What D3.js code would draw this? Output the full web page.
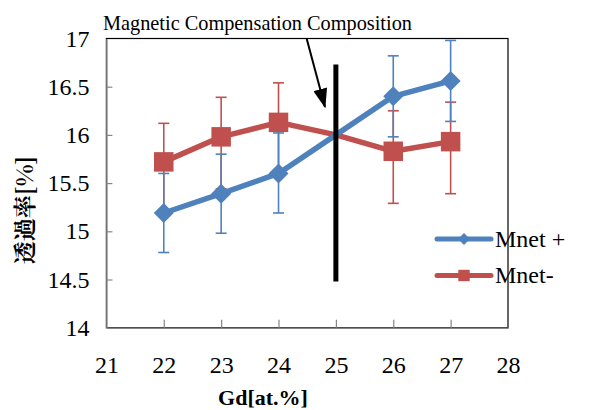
<!DOCTYPE html>
<html>
<head>
<meta charset="utf-8">
<script src="https://cdn.jsdelivr.net/npm/d3@7"></script>
<style>
  body { margin: 0; background: #fff; }
</style>
</head>
<body>
<svg id="chart" width="616" height="410"></svg>
<script>
// Gd content [at.%]
var gd = [22, 23, 24, 25, 26, 27];

// transmittance, Mnet + (blue diamonds)
var mnetPlus = [15.19, 15.39, 15.60, 16.00, 16.40, 16.56];
var mnetPlusUp = [0.41, 0.41, 0.42, 0, 0.42, 0.42];
var mnetPlusDown = [0.41, 0.41, 0.41, 0, 0.42, 0.42];

// transmittance, Mnet- (red squares)
var mnetMinus = [15.72, 15.98, 16.13, 16.00, 15.83, 15.93];
var mnetMinusUp = [0.40, 0.41, 0.41, 0, 0.42, 0.41];
var mnetMinusDown = [0.54, 0.54, 0.53, 0, 0.54, 0.54];

var xTicks = [21, 22, 23, 24, 25, 26, 27, 28];
var yTicks = [14, 14.5, 15, 15.5, 16, 16.5, 17];

// compensation marker line and arrow (data coordinates)
var compLine = [[25, 16.73], [25, 14.48]];
var arrowLine = [[24.49, 17.0], [24.81, 16.29]];

var blue = "#4f81bd";
var red = "#c0504d";
var serif = "'Liberation Serif'";

var svg = d3.select("#chart");

var x = d3.scaleLinear().domain([21, 28]).range([106.4, 508]);
var y = d3.scaleLinear().domain([14, 17]).range([327.7, 38.5]);

svg.append("defs").append("marker")
  .attr("id", "arrow")
  .attr("viewBox", "0 0 14 10")
  .attr("refX", 13).attr("refY", 5)
  .attr("markerWidth", 10).attr("markerHeight", 7)
  .attr("markerUnits", "strokeWidth")
  .attr("orient", "auto")
  .append("path")
  .attr("d", "M0,0 L14,5 L0,10 z")
  .attr("fill", "#000");

// plot area frame
svg.append("rect")
  .attr("x", x(21)).attr("y", y(17))
  .attr("width", x(28) - x(21)).attr("height", y(14) - y(17))
  .attr("fill", "none").attr("stroke", "#000").attr("stroke-width", 1.2);

// axes
var yAxis = svg.append("g")
  .attr("transform", "translate(" + x(21) + ",0)")
  .call(d3.axisLeft(y).tickValues(yTicks).tickSizeInner(-6).tickSizeOuter(0).tickPadding(17)
    .tickFormat(d3.format("")));
var xAxis = svg.append("g")
  .attr("transform", "translate(0," + y(14) + ")")
  .call(d3.axisBottom(x).tickValues(xTicks).tickSizeInner(-8).tickSizeOuter(0).tickPadding(28)
    .tickFormat(d3.format("d")));

[yAxis, xAxis].forEach(function (a) {
  a.attr("font-family", null);
  a.select(".domain").attr("stroke", "#868686").attr("stroke-width", 1.5);
  a.selectAll(".tick line").attr("stroke", "#868686").attr("stroke-width", 1.2);
  a.selectAll(".tick text")
    .style("font-family", serif)
    .attr("font-size", 24).attr("fill", "#000");
});
// no inside tick drawn over the frame at 17 or 28
yAxis.selectAll(".tick").filter(d => d === 14 || d === 17).select("line").remove();
xAxis.selectAll(".tick").filter(d => d === 21 || d === 28).select("line").remove();

var line = d3.line().x(d => x(d[0])).y(d => y(d[1]));

function drawErrors(vals, up, down, color) {
  var pts = gd.map((g, i) => [g, vals[i], up[i], down[i]]);
  var g = svg.append("g");
  var eb = g.selectAll("g").data(pts.filter(p => p[2] > 0 || p[3] > 0)).enter().append("g")
    .attr("stroke", color).attr("stroke-width", 1.6);
  eb.append("line")
    .attr("x1", d => x(d[0])).attr("x2", d => x(d[0]))
    .attr("y1", d => y(d[1] + d[2])).attr("y2", d => y(d[1] - d[3]));
  eb.append("line")
    .attr("x1", d => x(d[0]) - 5.5).attr("x2", d => x(d[0]) + 5.5)
    .attr("y1", d => y(d[1] + d[2])).attr("y2", d => y(d[1] + d[2]));
  eb.append("line")
    .attr("x1", d => x(d[0]) - 5.5).attr("x2", d => x(d[0]) + 5.5)
    .attr("y1", d => y(d[1] - d[3])).attr("y2", d => y(d[1] - d[3]));
  return { g: g, pts: pts };
}

function drawLineAndMarkers(s, color, size, rot) {
  s.g.append("path")
    .datum(s.pts)
    .attr("d", line)
    .attr("fill", "none").attr("stroke", color).attr("stroke-width", 5.5)
    .attr("stroke-linejoin", "round");
  s.g.selectAll("path.mk").data(s.pts.filter(p => p[0] !== 25)).enter().append("path")
    .attr("class", "mk")
    .attr("d", d3.symbol().type(d3.symbolSquare).size(size))
    .attr("transform", d => "translate(" + x(d[0]) + "," + y(d[1]) + ") rotate(" + rot + ")")
    .attr("fill", color);
}

var sRed = drawErrors(mnetMinus, mnetMinusUp, mnetMinusDown, red);
var sBlue = drawErrors(mnetPlus, mnetPlusUp, mnetPlusDown, blue);
drawLineAndMarkers(sRed, red, 380, 0);
drawLineAndMarkers(sBlue, blue, 200, 45);

// compensation composition line
svg.append("path")
  .attr("d", line(compLine))
  .attr("stroke", "#000").attr("stroke-width", 5).attr("fill", "none");

svg.append("path")
  .attr("d", line(arrowLine))
  .attr("stroke", "#000").attr("stroke-width", 2).attr("fill", "none")
  .attr("marker-end", "url(#arrow)");

var title = svg.append("text")
  .attr("x", 103).attr("y", 30)
  .style("font-family", serif)
  .attr("font-size", 23)
  .text("Magnetic Compensation Composition");
// fit title to its width in the reference
var tl = title.node().getComputedTextLength();
title.attr("font-size", 23 * 309 / tl);

// legend
var legend = [
  { name: "Mnet +", color: blue, size: 70, rot: 45 },
  { name: "Mnet-", color: red, size: 130, rot: 0 }
];
var lg = svg.selectAll("g.legend").data(legend).enter().append("g")
  .attr("class", "legend")
  .attr("transform", (d, i) => "translate(437," + (239 + i * 36.5) + ")");
lg.append("line")
  .attr("x1", 0).attr("x2", 54).attr("y1", 0).attr("y2", 0)
  .attr("stroke", d => d.color).attr("stroke-width", 5).attr("stroke-linecap", "round");
lg.append("path")
  .attr("d", d => d3.symbol().type(d3.symbolSquare).size(d.size)())
  .attr("transform", d => "translate(27,0) rotate(" + d.rot + ")")
  .attr("fill", d => d.color);
lg.append("text")
  .attr("x", 58).attr("y", 7.5)
  .style("font-family", serif)
  .attr("font-size", 24)
  .text(d => d.name);

// axis titles
svg.append("text")
  .attr("x", 263).attr("y", 405)
  .attr("text-anchor", "middle")
  .style("font-family", serif)
  .attr("font-size", 22).attr("font-weight", "bold")
  .text("Gd[at.%]");

svg.append("text")
  .attr("transform", "translate(33,210) rotate(-90)")
  .attr("text-anchor", "middle")
  .style("font-family", "'Noto Serif CJK JP'")
  .attr("font-size", 23).attr("font-weight", "bold")
  .text("透過率[%]");
</script>
</body>
</html>
